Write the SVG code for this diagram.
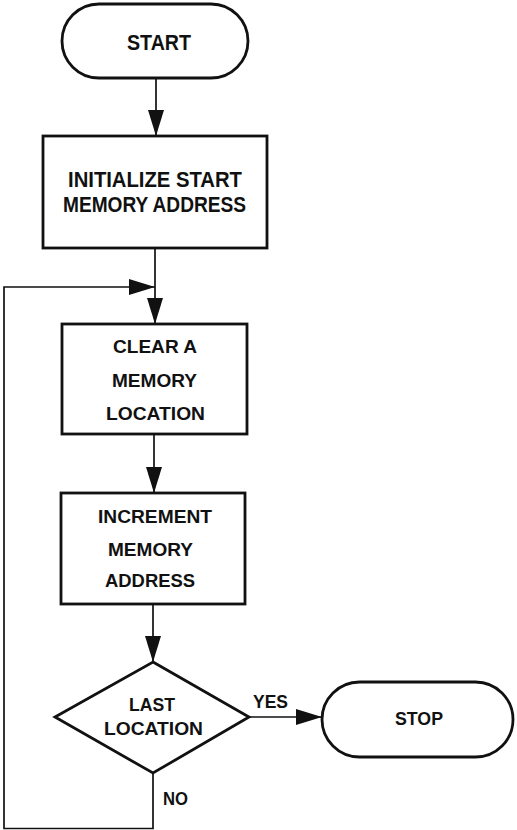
<svg xmlns="http://www.w3.org/2000/svg" width="517" height="830" viewBox="0 0 517 830">
  <defs>
    <style>
      .shape { fill: #ffffff; stroke: #111111; stroke-width: 2.8; }
      .wire { fill: none; stroke: #111111; stroke-width: 1.7; }
      .label { font-family: "Liberation Sans", Arial, sans-serif; font-weight: bold; fill: #111111; text-anchor: middle; }
      .big { font-size: 22px; }
      .small { font-size: 19px; }
    </style>
    <marker id="head" viewBox="0 0 26 16" refX="26" refY="8" markerWidth="26" markerHeight="16" markerUnits="userSpaceOnUse" orient="auto">
      <path d="M0,0 L26,8 L0,16 Z" fill="#111111"/>
    </marker>
  </defs>

  <rect width="517" height="830" fill="#ffffff"/>

  <!-- connectors -->
  <g id="connectors">
    <path class="wire" d="M156,78 V136" marker-end="url(#head)"/>
    <path class="wire" d="M155,248 V324" marker-end="url(#head)"/>
    <path class="wire" d="M154,434 V493" marker-end="url(#head)"/>
    <path class="wire" d="M153,604 V662" marker-end="url(#head)"/>
    <path class="wire" d="M249,717 H322" marker-end="url(#head)"/>
    <path class="wire" d="M153,773 V828.5 H4 V287 H155" marker-end="url(#head)"/>
    <text class="label small" x="270.5" y="708" textLength="35" lengthAdjust="spacingAndGlyphs">YES</text>
    <text class="label small" x="175.5" y="805" textLength="25" lengthAdjust="spacingAndGlyphs">NO</text>
  </g>

  <!-- start terminal -->
  <g id="start">
    <rect class="shape" x="62" y="4" width="186" height="74" rx="37" ry="37"/>
    <text class="label big" x="159" y="50" textLength="64" lengthAdjust="spacingAndGlyphs">START</text>
  </g>

  <!-- initialize step -->
  <g id="init">
    <rect class="shape" x="43" y="136" width="224" height="112"/>
    <text class="label big" x="155" y="187" textLength="174" lengthAdjust="spacingAndGlyphs">INITIALIZE START</text>
    <text class="label big" x="154.5" y="212" textLength="183" lengthAdjust="spacingAndGlyphs">MEMORY ADDRESS</text>
  </g>

  <!-- clear step -->
  <g id="clear">
    <rect class="shape" x="62" y="324" width="185" height="110"/>
    <text class="label small" x="155" y="353" textLength="84" lengthAdjust="spacingAndGlyphs">CLEAR A</text>
    <text class="label small" x="154.5" y="387" textLength="85" lengthAdjust="spacingAndGlyphs">MEMORY</text>
    <text class="label small" x="155.5" y="420" textLength="99" lengthAdjust="spacingAndGlyphs">LOCATION</text>
  </g>

  <!-- increment step -->
  <g id="increment">
    <rect class="shape" x="61" y="493" width="184" height="111"/>
    <text class="label small" x="155" y="523" textLength="114" lengthAdjust="spacingAndGlyphs">INCREMENT</text>
    <text class="label small" x="150.5" y="556" textLength="85" lengthAdjust="spacingAndGlyphs">MEMORY</text>
    <text class="label small" x="150" y="587" textLength="90" lengthAdjust="spacingAndGlyphs">ADDRESS</text>
  </g>

  <!-- decision -->
  <g id="decision">
    <polygon class="shape" points="153,662 249,717 153,773 55,717"/>
    <text class="label small" x="152" y="711" textLength="46" lengthAdjust="spacingAndGlyphs">LAST</text>
    <text class="label small" x="153.5" y="735" textLength="99" lengthAdjust="spacingAndGlyphs">LOCATION</text>
  </g>

  <!-- stop terminal -->
  <g id="stop">
    <rect class="shape" x="322" y="682" width="191" height="75" rx="37.5" ry="37.5"/>
    <text class="label small" x="419" y="725" textLength="48" lengthAdjust="spacingAndGlyphs">STOP</text>
  </g>
</svg>
